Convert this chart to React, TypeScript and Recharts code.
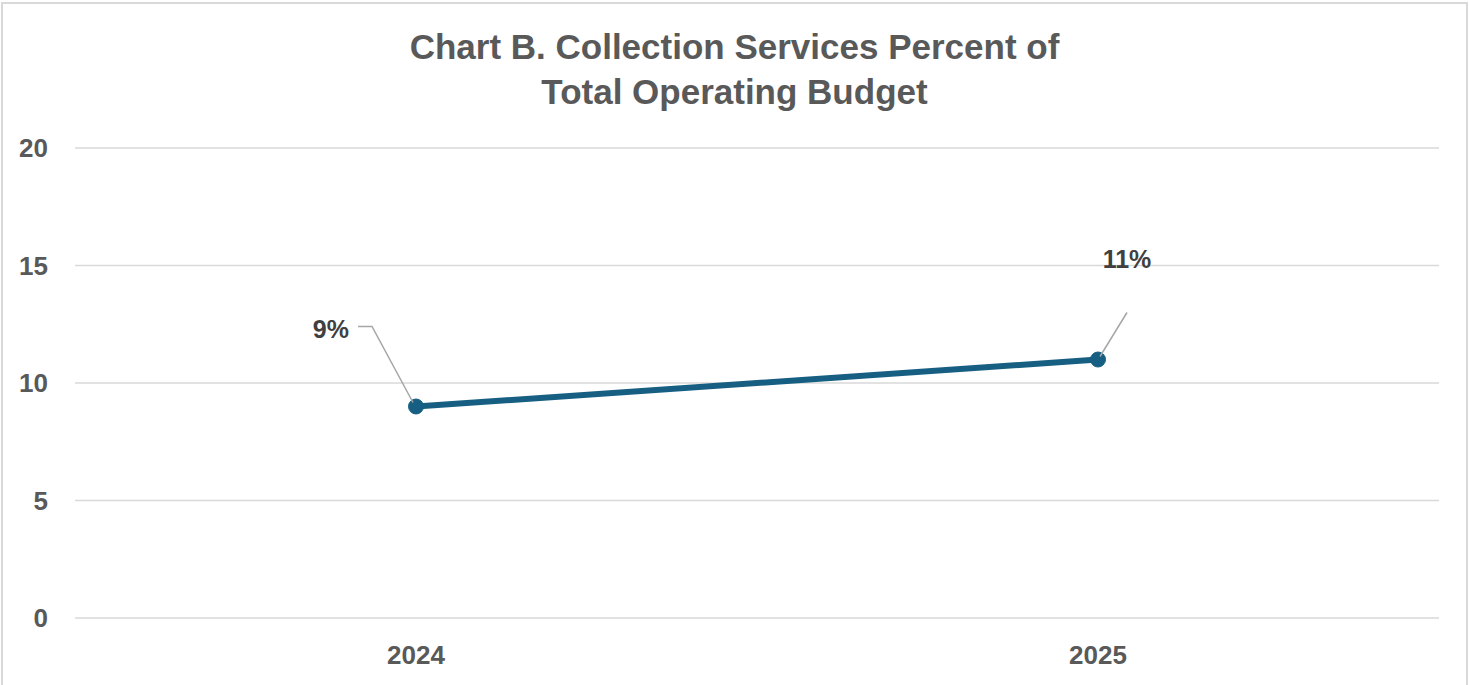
import React from "react";
import { LineChart, Line, XAxis, YAxis, CartesianGrid, LabelList } from "recharts";

const categories = ["2024", "2025"];
const percentValues = [9, 11];
const yTicks = [0, 5, 10, 15, 20];
const labelTexts = ["9%", "11%"];

const data = categories.map((c, i) => ({ year: c, value: percentValues[i], label: labelTexts[i] }));

const LINE_COLOR = "#175f82";
const TEXT_COLOR = "#595959";

const renderLabel = (props: any) => {
  const { x, y, index } = props;
  const text = labelTexts[index];
  if (index === 0) {
    return (
      <g>
        <polyline
          points={`${x - 58},${y - 80} ${x - 44},${y - 80} ${x - 3},${y - 4}`}
          fill="none"
          stroke="#a6a6a6"
          strokeWidth={1.5}
        />
        <text
          x={x - 67}
          y={y - 78}
          textAnchor="end"
          dominantBaseline="central"
          fontFamily="'Liberation Sans', Arial, sans-serif"
          fontWeight="bold"
          fontSize={25}
          fill="#404040"
        >
          {text}
        </text>
      </g>
    );
  }
  return (
    <g>
      <line x1={x + 29} y1={y - 47} x2={x + 2} y2={y - 3} stroke="#a6a6a6" strokeWidth={1.5} />
      <text
        x={x + 29}
        y={y - 101}
        textAnchor="middle"
        dominantBaseline="central"
        fontFamily="'Liberation Sans', Arial, sans-serif"
        fontWeight="bold"
        fontSize={25}
        fill="#404040"
      >
        {text}
      </text>
    </g>
  );
};

export default function App() {
  return (
    <div style={{ position: "fixed", left: 0, top: 0, width: 1469, height: 685, overflow: "hidden", background: "#fff" }}>
      <div
        style={{
          position: "absolute",
          left: 1,
          top: 2,
          width: 1463,
          height: 720,
          border: "2px solid #d9d9d9",
        }}
      />
      <div
        style={{
          position: "absolute",
          left: 0,
          top: 24,
          width: 1469,
          textAlign: "center",
          fontFamily: "'Liberation Sans', Arial, sans-serif",
          fontWeight: "bold",
          fontSize: 35,
          lineHeight: "45px",
          color: TEXT_COLOR,
        }}
      >
        Chart B. Collection Services Percent of
        <br />
        Total Operating Budget
      </div>
      <div style={{ position: "absolute", left: 0, top: 0 }}>
        <LineChart width={1469} height={685} data={data} margin={{ top: 148, right: 30, bottom: 0, left: 15 }}>
          <CartesianGrid vertical={false} stroke="#d9d9d9" strokeWidth={1.5} />
          <XAxis
            dataKey="year"
            scale="band"
            axisLine={false}
            tickLine={false}
            tickSize={0}
            tickMargin={28}
            height={67}
            tick={{ fill: TEXT_COLOR, fontSize: 26, fontWeight: "bold", fontFamily: "'Liberation Sans', Arial, sans-serif" }}
          />
          <YAxis
            domain={[0, 20]}
            ticks={yTicks}
            axisLine={false}
            tickLine={false}
            tickSize={0}
            tickMargin={27}
            width={60}
            tick={{ fill: TEXT_COLOR, fontSize: 26, fontWeight: "bold", fontFamily: "'Liberation Sans', Arial, sans-serif" }}
          />
          <Line
            type="linear"
            dataKey="value"
            stroke={LINE_COLOR}
            strokeWidth={6}
            dot={{ r: 7.5, fill: LINE_COLOR, stroke: LINE_COLOR, strokeWidth: 1 }}
            isAnimationActive={false}
          >
            <LabelList dataKey="value" content={renderLabel} />
          </Line>
        </LineChart>
      </div>
    </div>
  );
}
